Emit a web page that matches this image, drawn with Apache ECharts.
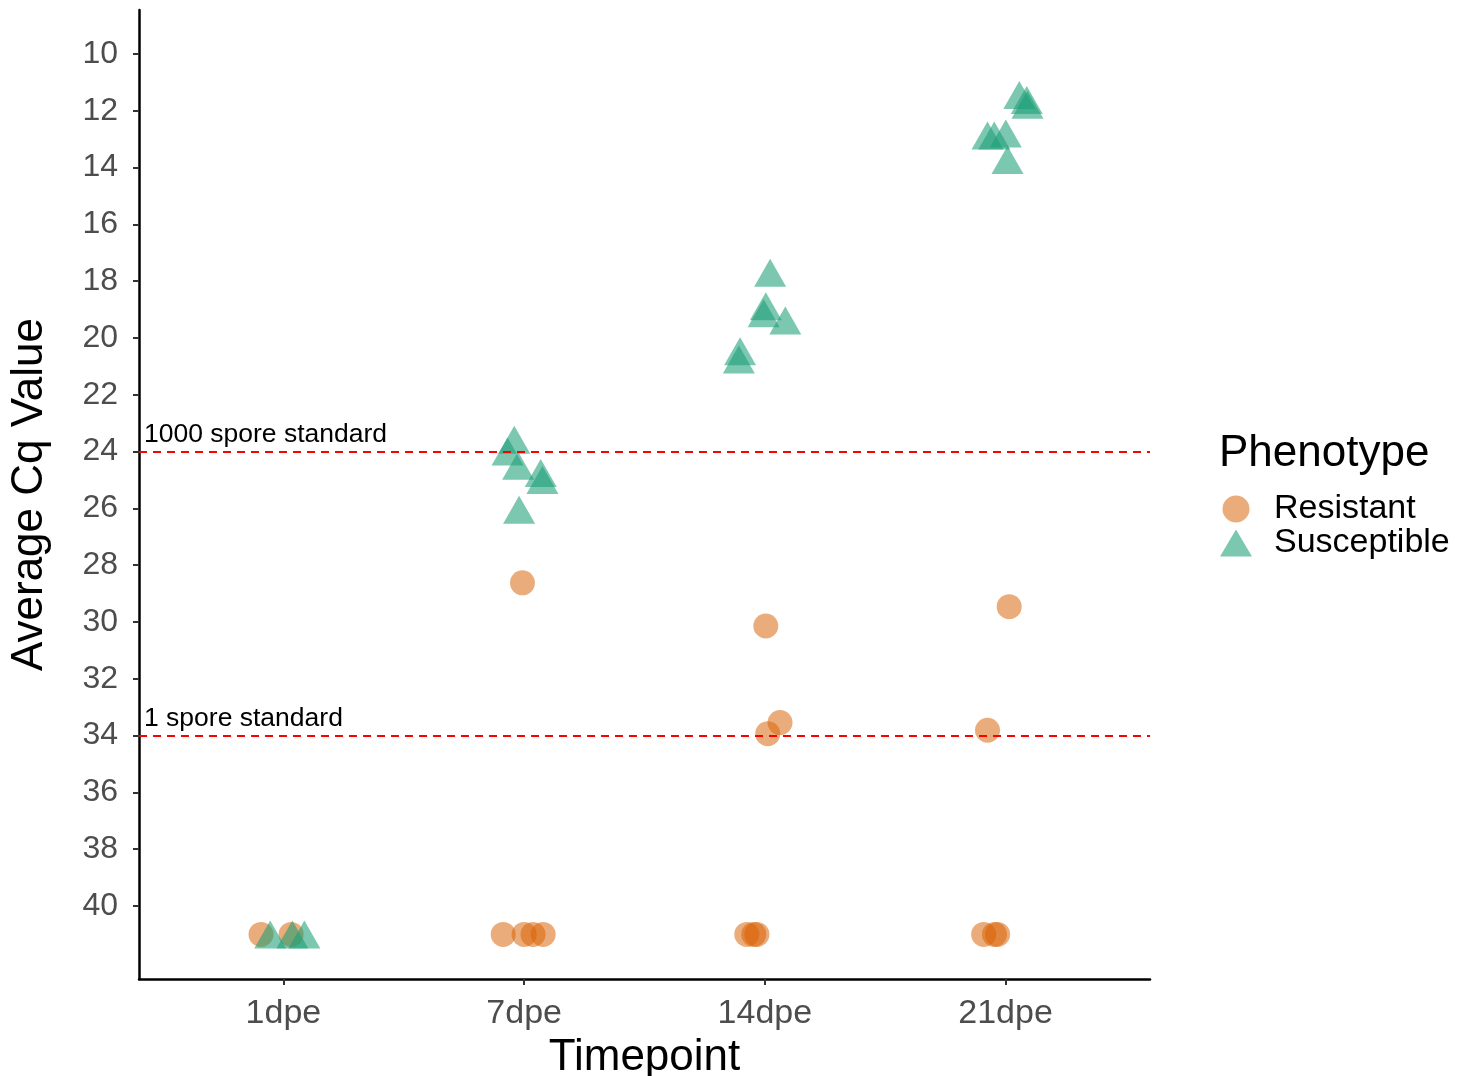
<!DOCTYPE html>
<html>
<head>
<meta charset="utf-8">
<script src="https://cdn.jsdelivr.net/npm/echarts@6/dist/echarts.min.js"></script>
<style>html,body{margin:0;padding:0;background:#fff}#c{width:1466px;height:1076px}</style>
</head>
<body>
<div id="c"></div>
<script>
const categories = ['1dpe', '7dpe', '14dpe', '21dpe'];
const yTicks = [10, 12, 14, 16, 18, 20, 22, 24, 26, 28, 30, 32, 34, 36, 38, 40];
const standardValues = [24, 34];
const standardLabels = ['1000 spore standard', '1 spore standard'];

// Resistant: category index, jitter offset, Cq value
const resistantTime   = [0, 0, 1, 1, 1, 1, 1, 2, 2, 2, 2, 2, 2, 3, 3, 3, 3, 3];
const resistantJitter = [-0.093, 0.032, -0.087, 0.0, 0.037, 0.079, -0.007, -0.075, -0.046, -0.033, 0.004, 0.063, 0.012, -0.091, -0.046, -0.033, 0.015, -0.075];
const resistantCq     = [41, 41, 41, 41, 41, 41, 28.62, 41, 41, 41, 30.14, 33.54, 33.93, 41, 41, 41, 29.46, 33.81];

// Susceptible
const susceptibleTime   = [0, 0, 0, 1, 1, 1, 1, 1, 1, 2, 2, 2, 2, 2, 2, 3, 3, 3, 3, 3, 3, 3];
const susceptibleJitter = [-0.055, 0.037, 0.087, -0.041, -0.069, -0.025, 0.069, 0.076, -0.021, 0.022, 0.004, -0.005, 0.085, -0.103, -0.108, 0.057, 0.088, 0.091, -0.075, -0.047, 0.001, 0.008];
const susceptibleCq     = [41, 41, 41, 23.58, 24.0, 24.5, 24.75, 25.0, 26.05, 17.70, 18.88, 19.13, 19.38, 20.47, 20.76, 11.44, 11.62, 11.79, 12.87, 12.87, 12.8, 13.73];

const FONT = '"Liberation Sans", Arial, Helvetica, sans-serif';

function build(t, j, v) {
  return t.map((c, i) => [c + j[i], v[i]]);
}

const chart = echarts.init(document.getElementById('c'), null, {renderer: 'canvas'});
chart.setOption({
  animation: false,
  backgroundColor: '#fff',
  textStyle: {fontFamily: FONT},
  grid: {left: 139, top: 10, width: 1011, height: 969, containLabel: false, outerBoundsMode: 'none'},
  title: {
    text: 'Phenotype', left: 1214, top: 427,
    textStyle: {fontFamily: FONT, fontSize: 44, fontWeight: 'normal', color: '#000'}
  },
  legend: {
    left: 1215, top: 487, orient: 'vertical',
    itemWidth: 32, itemHeight: 27, itemGap: 0,
    textStyle: {fontFamily: FONT, fontSize: 34, lineHeight: 32, color: '#000', padding: [0, 0, 0, 17]},
    data: [
      {name: 'Resistant', icon: 'circle'},
      {name: 'Susceptible', icon: 'triangle'}
    ]
  },
  xAxis: {
    type: 'value', min: -0.6, max: 3.6,
    name: 'Timepoint', nameLocation: 'middle', nameGap: 56,
    nameTextStyle: {fontFamily: FONT, fontSize: 44, color: '#000'},
    axisLine: {show: true, onZero: false, lineStyle: {color: '#000', width: 2.5}},
    axisTick: {show: true, length: 6, lineStyle: {color: '#333', width: 2}, customValues: [0, 1, 2, 3]},
    axisLabel: {
      customValues: [0, 1, 2, 3], margin: 18, fontSize: 34, color: '#4D4D4D', fontFamily: FONT,
      formatter: v => categories[Math.round(v)]
    },
    splitLine: {show: false}
  },
  yAxis: {
    type: 'value', inverse: true, min: 8.45, max: 42.57,
    name: 'Average Cq Value', nameLocation: 'middle', nameGap: 87,
    nameTextStyle: {fontFamily: FONT, fontSize: 44, color: '#000'},
    axisLine: {show: true, onZero: false, lineStyle: {color: '#000', width: 2.5}},
    axisTick: {show: true, length: 6, lineStyle: {color: '#333', width: 2}, customValues: yTicks},
    axisLabel: {customValues: yTicks, margin: 21, fontSize: 32, color: '#4D4D4D', fontFamily: FONT},
    splitLine: {show: false}
  },
  series: [
    {
      name: 'Resistant', type: 'scatter', symbol: 'circle', symbolSize: 25,
      itemStyle: {color: '#D95F02', opacity: 0.52},
      data: build(resistantTime, resistantJitter, resistantCq),
      z: 3
    },
    {
      name: 'Susceptible', type: 'scatter', symbol: 'triangle', symbolSize: [32, 28],
      itemStyle: {color: '#1B9E77', opacity: 0.58},
      data: build(susceptibleTime, susceptibleJitter, susceptibleCq),
      z: 4
    },
    {
      name: 'standards', type: 'line', data: [], silent: true,
      markLine: {
        silent: true, symbol: 'none',
        lineStyle: {color: '#FF0000', type: [8, 6], width: 2},
        label: {
          position: 'insideStartTop', color: '#000', fontSize: 26.5, fontFamily: FONT,
          distance: [5, 3],
          formatter: p => standardLabels[standardValues.indexOf(p.value)]
        },
        data: standardValues.map(v => ({yAxis: v}))
      },
      z: 2
    }
  ]
});
</script>
</body>
</html>
